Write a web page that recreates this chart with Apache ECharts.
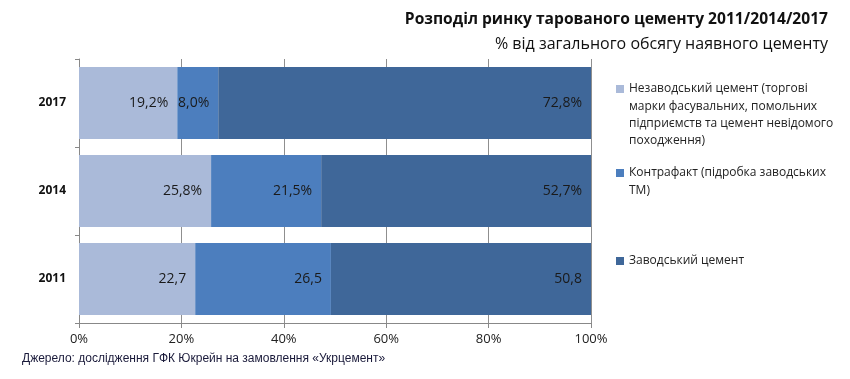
<!DOCTYPE html>
<html>
<head>
<meta charset="utf-8">
<script src="https://cdn.jsdelivr.net/npm/echarts@6/dist/echarts.min.js"></script>
<style>html,body{margin:0;padding:0;background:#fff}#c{width:850px;height:379px}</style>
</head>
<body>
<div id="c"></div>
<script>
const categories = ['2011', '2014', '2017'];
const seriesNames = [
  'Незаводський цемент (торгові\nмарки фасувальних, помольних\nпідприємств та цемент невідомого\nпоходження)',
  'Контрафакт (підробка заводських\nТМ)',
  'Заводський цемент'
];
const nonFactory = [22.7, 25.8, 19.2];
const counterfeit = [26.5, 21.5, 8.0];
const factory = [50.8, 52.7, 72.8];
const nonFactoryLabels = ['22,7', '25,8%', '19,2%'];
const counterfeitLabels = ['26,5', '21,5%', '8,0%'];
const factoryLabels = ['50,8', '52,7%', '72,8%'];
const xTicks = ['0%', '20%', '40%', '60%', '80%', '100%'];

const colors = ['#AABAD9', '#4C7EBE', '#3F6799'];
const values = [nonFactory, counterfeit, factory];
const labels = [nonFactoryLabels, counterfeitLabels, factoryLabels];
const lineCounts = seriesNames.map(n => n.split('\n').length);
const legendTops = [84, 168, 256];
const LH = 17.3;
const SQ = 8;

function legendIcon(n) {
  const H = n * LH;
  const a = LH / 2 - SQ / 2, b = LH / 2 + SQ / 2;
  return 'path://M0,0L0.01,0L0.01,0.01Z' +
    'M0,' + a + 'L' + SQ + ',' + a + 'L' + SQ + ',' + b + 'L0,' + b + 'Z' +
    'M0,' + H + 'L0.01,' + H + 'L0.01,' + (H - 0.01) + 'Z';
}

const chart = echarts.init(document.getElementById('c'), null, {renderer: 'canvas'});
const option = {
  backgroundColor: '#fff',
  animation: false,
  color: colors,
  title: [
    {
      text: 'Розподіл ринку тарованого цементу 2011/2014/2017',
      right: 17, top: 7,
      textStyle: {fontFamily: 'Open Sans', fontWeight: 'bold', fontSize: 15.6, color: '#111'}
    },
    {
      text: '% від загального обсягу наявного цементу',
      right: 17, top: 31,
      textStyle: {fontFamily: 'Open Sans', fontWeight: 'normal', fontSize: 16, color: '#111'}
    },
    {
      text: 'Джерело: дослідження ГФК Юкрейн на замовлення «Укрцемент»',
      left: 17, top: 348,
      textStyle: {fontFamily: 'Liberation Sans', fontWeight: 'normal', fontSize: 12, color: '#1a1a3a'}
    }
  ],
  legend: seriesNames.map((n, i) => ({
    data: [n],
    orient: 'vertical',
    left: 611,
    top: legendTops[i] - LH / 2,
    itemWidth: SQ,
    itemHeight: lineCounts[i] * LH,
    icon: legendIcon(lineCounts[i]),
    itemGap: 5,
    selectedMode: false,
    textStyle: {fontFamily: 'Open Sans', fontSize: 12, color: '#222', lineHeight: LH}
  })),
  grid: {left: 79, right: 259, top: 59, bottom: 56, containLabel: false},
  xAxis: {
    type: 'value', min: 0, max: 100, interval: 20,
    axisLabel: {formatter: v => xTicks[Math.round(v / 20)], fontFamily: 'Open Sans', fontSize: 13, color: '#222', margin: 10},
    axisLine: {show: true, lineStyle: {color: '#888'}},
    axisTick: {show: true, length: 5, lineStyle: {color: '#888'}},
    splitLine: {show: true, lineStyle: {color: '#8f8f8f', width: 1}}
  },
  yAxis: {
    type: 'category', data: categories,
    axisLabel: {fontFamily: 'Open Sans', fontWeight: 'bold', fontSize: 12, color: '#111', margin: 13},
    axisLine: {show: true, lineStyle: {color: '#888'}},
    axisTick: {show: true, length: 4, lineStyle: {color: '#888'}},
    splitLine: {show: false}
  },
  series: seriesNames.map((n, i) => ({
    name: n,
    type: 'bar',
    stack: 'total',
    barCategoryGap: '18%',
    itemStyle: {color: colors[i]},
    label: {
      show: true, position: 'insideRight', distance: 9,
      formatter: p => labels[i][p.dataIndex],
      fontFamily: 'Open Sans', fontSize: 14, color: '#1a1a1a'
    },
    data: values[i]
  }))
};
chart.setOption(option);
</script>
</body>
</html>
